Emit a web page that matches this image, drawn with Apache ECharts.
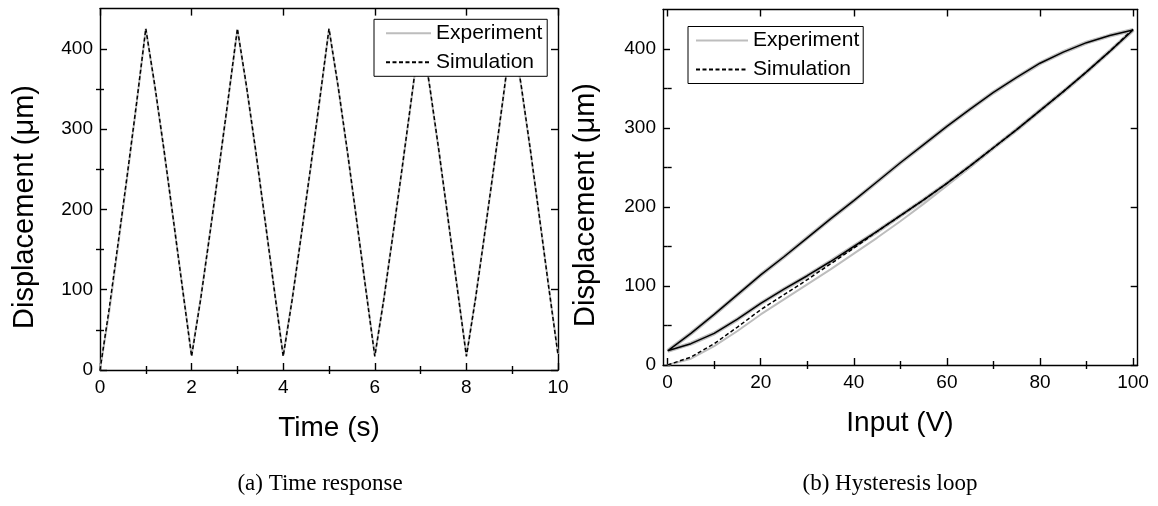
<!DOCTYPE html>
<html><head><meta charset="utf-8">
<script src="https://cdn.jsdelivr.net/npm/echarts@6/dist/echarts.min.js"></script>
<style>html,body{margin:0;padding:0;background:#fff}#c{width:1158px;height:506px}</style>
</head><body><div id="c"></div>
<script>
// ---------- (a) Time response ----------
const timeS = [0,0.2,0.4,0.6,0.8,1,1.2,1.4,1.6,1.8,2,2.2,2.4,2.6,2.8,3,3.2,3.4,3.6,3.8,4,4.2,4.4,4.6,4.8,5,5.2,5.4,5.6,5.8,6,6.2,6.4,6.6,6.8,7,7.2,7.4,7.6,7.8,8,8.2,8.4,8.6,8.8,9,9.2,9.4,9.6,9.8,10];
const expTime = [0,72,157,243,332,425, 352,272,188,103,18, 90,170,252,337,424, 352,272,188,103,18, 90,170,252,337,424, 352,272,188,103,18, 90,170,252,337,424, 352,272,188,103,18, 90,170,252,337,424, 352,272,188,103,20];
const simTime = [0,76,160,245,333,425, 353,273,188,102,17, 89,170,253,338,425, 353,273,188,102,17, 89,170,253,338,425, 353,273,188,102,17, 89,170,253,338,425, 353,273,188,102,17, 89,170,253,338,425, 353,273,188,102,19];
const timeMajorTicks = [0,2,4,6,8,10];
const timeMinorTicks = [1,3,5,7,9];
const dispMajorTicks = [0,100,200,300,400];
const dispMinorTicks = [50,150,250,350];

// ---------- (b) Hysteresis loop ----------
const inputV = [0,5,10,15,20,25,30,35,40,45,50,55,60,65,70,75,80,85,90,95,100];
const expFirstRise = [0,8,24,43,64,83,102,121,141,161,182,204,227,250,274,298,322,346,371,397,424];
const simFirstRise = [0,10,27,48,70,89,108,128,148,169,189,209,230,252,275,298,322,346,371,397,425];
const loopLower = [18,27,40,58,78,96,113,131,150,169,189,209,230,252,275,298,322,346,371,397,424];
const loopUpper = [18,40,64,89,114,137,161,185,208,232,256,279,302,324,345,364,382,396,408,417,425];
const inputMajorTicks = [0,20,40,60,80,100];
const inputMinorTicks = [10,30,50,70,90];

const FONT = '"Liberation Sans", Arial, sans-serif';
const SERIF = '"Liberation Serif", "Times New Roman", serif';
const AXL = {color:'#000', width:1.4};
const GRAY = '#bdbdbd';

function axisSet(gridIndex, positions, min, max, majors, minors, labelMargin) {
  const out = [];
  positions.forEach((pos, k) => {
    const base = {type:'value', gridIndex, position:pos, min, max, silent:true,
      splitLine:{show:false}, minorTick:{show:false}, minorSplitLine:{show:false}};
    out.push(Object.assign({}, base, {
      axisLine:{show:true, onZero:false, lineStyle:AXL},
      axisTick:{show:true, inside:true, length:7, customValues:majors, lineStyle:AXL},
      axisLabel:{show:k===0, customValues:majors, fontFamily:FONT, fontSize:19, color:'#000', margin:labelMargin}
    }));
    out.push(Object.assign({}, base, {
      axisLine:{show:false},
      axisTick:{show:true, inside:true, length:4, customValues:minors, lineStyle:AXL},
      axisLabel:{show:false}
    }));
  });
  return out;
}

const xAxes = [].concat(
  axisSet(0, ['bottom','top'], 0, 10, timeMajorTicks, timeMinorTicks, 8),
  axisSet(1, ['bottom','top'], -1, 101, inputMajorTicks, inputMinorTicks, 8)
);
const yAxes = [].concat(
  axisSet(0, ['left','right'], 0, 450, dispMajorTicks, dispMinorTicks, 7),
  axisSet(1, ['left','right'], 0, 450, dispMajorTicks, dispMinorTicks, 7)
);

const pairs = (xs, ys) => xs.map((x, i) => [x, ys[i]]);
const loopPath = pairs(inputV, loopLower).concat(pairs(inputV.slice().reverse(), loopUpper.slice().reverse()));

function legendAt(left, top, pad) {
  return {
    orient:'vertical', left, top, data:['Experiment','Simulation'],
    itemWidth:pad.w, itemHeight:10, itemGap:7, padding:pad.p,
    borderColor:'#000', borderWidth:1, borderRadius:0, backgroundColor:'#fff',
    selectedMode:false, z:10,
    itemStyle:{opacity:0, borderWidth:0},
    textStyle:{fontFamily:FONT, fontSize:21, color:'#000', lineHeight:22}
  };
}

const option = {
  animation:false,
  backgroundColor:'#fff',
  grid:[
    {left:100, top:8.6, width:458, height:361.4, outerBoundsMode:'none', containLabel:false},
    {left:663, top:9.5, width:474.7, height:355.5, outerBoundsMode:'none', containLabel:false}
  ],
  xAxis:xAxes,
  yAxis:yAxes,
  legend:[
    legendAt(374, 19.3, {w:45, p:[3,5,3,11]}),
    legendAt(688, 26.5, {w:52, p:[3,4,3,7]})
  ],
  series:[
    {name:'Experiment', type:'line', xAxisIndex:0, yAxisIndex:0, data:pairs(timeS, expTime),
     symbol:'none', showSymbol:false, lineStyle:{color:GRAY, width:2}, itemStyle:{color:GRAY}, z:2},
    {name:'Simulation', type:'line', xAxisIndex:0, yAxisIndex:0, data:pairs(timeS, simTime),
     symbol:'none', showSymbol:false, lineStyle:{color:'#000', width:1.5, type:[4,2.5]}, itemStyle:{color:'#000'}, z:3},
    {name:'Experiment', type:'line', xAxisIndex:4, yAxisIndex:4, data:pairs(inputV, expFirstRise),
     symbol:'none', showSymbol:false, lineStyle:{color:GRAY, width:2}, itemStyle:{color:GRAY}, z:2},
    {name:'Experiment', type:'line', xAxisIndex:4, yAxisIndex:4, data:loopPath,
     symbol:'none', showSymbol:false, lineStyle:{color:GRAY, width:4}, itemStyle:{color:GRAY}, z:2},
    {name:'Simulation', type:'line', xAxisIndex:4, yAxisIndex:4, data:pairs(inputV, simFirstRise),
     symbol:'none', showSymbol:false, lineStyle:{color:'#000', width:1.5, type:[4,2.5]}, itemStyle:{color:'#000'}, z:3},
    {name:'Simulation', type:'line', xAxisIndex:4, yAxisIndex:4, data:loopPath,
     symbol:'none', showSymbol:false, lineStyle:{color:'#000', width:1.5}, itemStyle:{color:'#000'}, z:3}
  ],
  graphic:[
    {type:'text', x:329, y:428, style:{text:'Time (s)', font:'28px '+FONT, fill:'#000', align:'center', verticalAlign:'middle'}},
    {type:'text', x:900, y:423, style:{text:'Input (V)', font:'28px '+FONT, fill:'#000', align:'center', verticalAlign:'middle'}},
    {type:'text', x:25, y:207, rotation:Math.PI/2, style:{text:'Displacement (\u03bcm)', font:'29px '+FONT, fill:'#000', align:'center', verticalAlign:'middle'}},
    {type:'text', x:586, y:205, rotation:Math.PI/2, style:{text:'Displacement (\u03bcm)', font:'29px '+FONT, fill:'#000', align:'center', verticalAlign:'middle'}},
    {type:'text', x:320, y:484, style:{text:'(a) Time response', font:'23px '+SERIF, fill:'#000', align:'center', verticalAlign:'middle'}},
    {type:'text', x:890, y:484, style:{text:'(b) Hysteresis loop', font:'23px '+SERIF, fill:'#000', align:'center', verticalAlign:'middle'}}
  ]
};
const chart = echarts.init(document.getElementById('c'), null, {renderer:'canvas'});
chart.setOption(option);
</script>
</body></html>
